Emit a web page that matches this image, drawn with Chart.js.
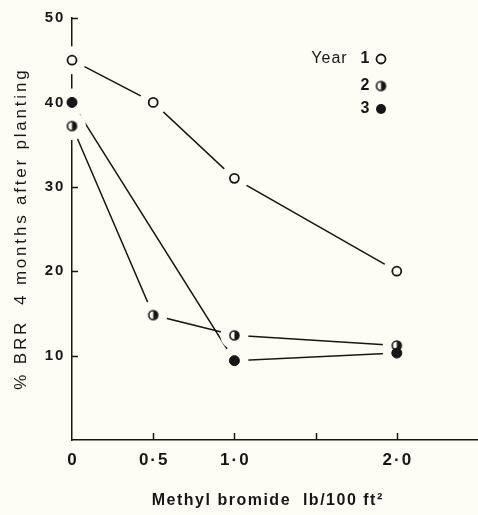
<!DOCTYPE html>
<html>
<head>
<meta charset="utf-8">
<script src="https://cdn.jsdelivr.net/npm/chart.js@4.4.1/dist/chart.umd.min.js"></script>
<style>
  html, body { margin: 0; padding: 0; background: #fdfdf6; }
  #wrap { width: 478px; height: 515px; }
</style>
</head>
<body>
<div id="wrap"><canvas id="chart" width="478" height="515"></canvas></div>
<script>
// values
const doses = [0, 0.5, 1.0, 2.0];
const year1 = [45, 40, 31, 20];
const year2 = [37.2, 14.8, 12.4, 11.2];
const year3Doses = [0, 1.0, 2.0];
const year3 = [40, 9.4, 10.3];
const xTicks = [0, 0.5, 1.0, 1.5, 2.0];
const xLabels = ["0", "0·5", "1·0", "", "2·0"];
const yTicks = [10, 20, 30, 40, 50];
const legendLabels = ["1", "2", "3"];
const xTitle = "Methyl bromide  lb/100 ft²";
const yTitle = "% BRR  4 months after planting";

const INK = "#161616";
const BG = "#fdfdf6";
const FONT = "'Liberation Sans', Arial, sans-serif";
const HALO = 14;

const pts = (xs, ys) => xs.map((x, i) => ({ x: x, y: ys[i] }));

// half filled circle for year 2
function halfDot(r) {
  const c = document.createElement("canvas");
  const s = Math.ceil(2 * r + 4);
  c.width = s; c.height = s;
  const g = c.getContext("2d");
  const m = s / 2;
  g.fillStyle = BG;
  g.beginPath(); g.arc(m, m, r, 0, Math.PI * 2); g.fill();
  g.fillStyle = INK;
  g.beginPath(); g.arc(m, m, r, -Math.PI / 2, Math.PI / 2); g.closePath(); g.fill();
  g.strokeStyle = INK; g.lineWidth = 1.6;
  g.beginPath(); g.arc(m, m, r, 0, Math.PI * 2); g.stroke();
  return c;
}
const dot2 = halfDot(4.5);

function lineSet(xs, ys) {
  return { data: pts(xs, ys), showLine: true, borderColor: INK, borderWidth: 1.5, pointRadius: 0, pointHoverRadius: 0, tension: 0, clip: false };
}

// text with letter spacing, centred on (cx, cy)
function spacedText(ctx, text, cx, cy, font, spacing, rotate) {
  ctx.save();
  ctx.font = font;
  ctx.letterSpacing = spacing + "px";
  ctx.textBaseline = "middle";
  ctx.textAlign = "left";
  ctx.fillStyle = INK;
  const w = ctx.measureText(text).width - spacing;
  ctx.translate(cx, cy);
  if (rotate) ctx.rotate(-Math.PI / 2);
  ctx.fillText(text, -w / 2, 0);
  ctx.restore();
}

// inward tick marks, then white gaps round the markers
const tickPlugin = {
  id: "inTicks",
  beforeDatasetsDraw(chart) {
    const { ctx, scales: { x, y }, chartArea } = chart;
    ctx.save();
    ctx.strokeStyle = INK;
    ctx.lineWidth = 1.5;
    yTicks.forEach(v => {
      const py = Math.round(y.getPixelForValue(v)) + 0.5;
      ctx.beginPath(); ctx.moveTo(chartArea.left, py); ctx.lineTo(chartArea.left + 6, py); ctx.stroke();
    });
    xTicks.slice(1).forEach(v => {
      const px = Math.round(x.getPixelForValue(v)) + 0.5;
      ctx.beginPath(); ctx.moveTo(px, chartArea.bottom); ctx.lineTo(px, chartArea.bottom - 7); ctx.stroke();
    });
    ctx.restore();
  },
  afterDatasetsDraw(chart) {
    const ctx = chart.ctx;
    const markerSets = [];
    chart.data.datasets.forEach((d, i) => { if (!d.showLine) markerSets.push(i); });
    ctx.save();
    ctx.fillStyle = BG;
    markerSets.forEach(i => {
      chart.getDatasetMeta(i).data.forEach(p => {
        ctx.beginPath(); ctx.arc(p.x, p.y, HALO, 0, Math.PI * 2); ctx.fill();
      });
    });
    ctx.restore();
    // markers again on top, last one uppermost
    markerSets.forEach(i => chart.getDatasetMeta(i).controller.draw());
  }
};

// tick labels, axis titles and key
const textPlugin = {
  id: "texts",
  afterDraw(chart) {
    const { ctx, scales: { x, y }, chartArea } = chart;
    yTicks.forEach(v => spacedText(ctx, String(v), 54, y.getPixelForValue(v), "bold 15px " + FONT, 2));
    xTicks.forEach((v, i) => {
      if (xLabels[i]) spacedText(ctx, xLabels[i], x.getPixelForValue(v), chartArea.bottom + 20, "bold 17px " + FONT, 2);
    });
    spacedText(ctx, xTitle, 267, 501, "bold 16px " + FONT, 1.5);
    spacedText(ctx, yTitle, 21, 230, "17px " + FONT, 2.8, true);

    const rows = [59, 86, 109];
    const mx = 381;
    spacedText(ctx, "Year", 329, rows[0], "16px " + FONT, 1);
    legendLabels.forEach((t, i) => spacedText(ctx, t, 365, rows[i], "bold 16px " + FONT, 0));
    ctx.save();
    ctx.strokeStyle = INK; ctx.lineWidth = 1.8;
    ctx.fillStyle = BG;
    ctx.beginPath(); ctx.arc(mx, rows[0], 4.5, 0, Math.PI * 2); ctx.fill(); ctx.stroke();
    ctx.drawImage(dot2, mx - dot2.width / 2, rows[1] - dot2.height / 2);
    ctx.fillStyle = INK;
    ctx.beginPath(); ctx.arc(mx, rows[2], 5, 0, Math.PI * 2); ctx.fill();
    ctx.restore();
  }
};

new Chart(document.getElementById("chart"), {
  type: "scatter",
  data: {
    datasets: [
      lineSet(doses, year1), lineSet(doses, year2), lineSet(year3Doses, year3),
      { data: pts(doses, year1), showLine: false, pointStyle: "circle", pointRadius: 4.5, pointHoverRadius: 4.5, pointBackgroundColor: BG, pointBorderColor: INK, pointBorderWidth: 1.8, clip: false },
      { data: pts(doses, year2), showLine: false, pointStyle: dot2, pointRadius: 4.5, pointHoverRadius: 4.5, clip: false },
      { data: pts(year3Doses, year3), showLine: false, pointStyle: "circle", pointRadius: 5, pointHoverRadius: 5, pointBackgroundColor: INK, pointBorderColor: INK, pointBorderWidth: 1, clip: false }
    ]
  },
  options: {
    responsive: false,
    animation: false,
    events: [],
    layout: { autoPadding: false, padding: { top: 18, right: 0, left: 0, bottom: 0 } },
    plugins: { legend: { display: false }, tooltip: { enabled: false } },
    scales: {
      x: {
        type: "linear",
        min: 0,
        max: 2.5,
        afterBuildTicks: s => { s.ticks = xTicks.map(v => ({ value: v })); },
        afterFit: s => { s.height = 75; s.paddingLeft = 0; s.paddingRight = 0; },
        ticks: { display: false },
        grid: { display: true, drawOnChartArea: false, drawTicks: false, color: INK },
        border: { display: true, color: INK, width: 1.5 }
      },
      y: {
        min: 0,
        max: 50,
        afterBuildTicks: s => { s.ticks = yTicks.map(v => ({ value: v })); },
        afterFit: s => { s.width = 72; s.paddingTop = 0; s.paddingBottom = 0; },
        ticks: { display: false },
        grid: { display: true, drawOnChartArea: false, drawTicks: false, color: INK },
        border: { display: true, color: INK, width: 1.5 }
      }
    }
  },
  plugins: [tickPlugin, textPlugin]
});
</script>
</body>
</html>
